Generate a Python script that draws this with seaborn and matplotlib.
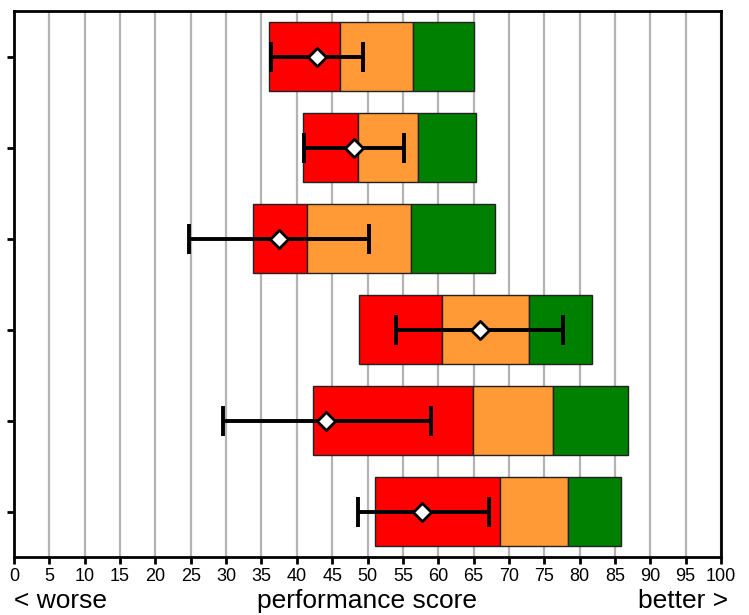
import numpy as np
import matplotlib
matplotlib.use("Agg")
import matplotlib.pyplot as plt
import seaborn as sns

# segment boundaries for each row (top to bottom)
red_start = [36.0, 40.9, 33.8, 48.8, 42.3, 51.1]
red_end = [46.1, 48.6, 41.4, 60.6, 64.9, 68.8]
orange_end = [56.5, 57.1, 56.1, 72.9, 76.2, 78.4]
green_end = [65.1, 65.3, 68.0, 81.8, 86.9, 85.8]

# mean score and its range
means = [42.8, 48.1, 37.5, 65.9, 44.2, 57.7]
err_low = [36.4, 41.0, 24.8, 54.1, 29.5, 48.7]
err_high = [49.3, 55.1, 50.2, 77.6, 59.0, 67.2]

x_ticks = list(range(0, 101, 5))


def main():
  sns.set_style("white")
  plt.rcParams['font.family'] = ['Liberation Sans Narrow', 'Liberation Sans', 'DejaVu Sans']
  plt.rcParams['text.color'] = 'black'
  plt.rcParams['xtick.color'] = 'black'
  plt.rcParams['ytick.color'] = 'black'

  fig = plt.figure(figsize=(7.49, 6.15), dpi=100)
  ax = fig.add_axes([14 / 749, 1 - 557 / 615, 707 / 749, 546 / 615])

  rows = np.arange(len(means))
  h = 0.76
  red_w = [e - s for s, e in zip(red_start, red_end)]
  orange_w = [e - s for s, e in zip(red_end, orange_end)]
  green_w = [e - s for s, e in zip(orange_end, green_end)]

  ax.barh(rows, red_w, left=red_start, height=h, color='#ff0000', edgecolor='#222222', linewidth=1, zorder=2)
  ax.barh(rows, orange_w, left=red_end, height=h, color='#ff9a36', edgecolor='#222222', linewidth=1, zorder=2)
  ax.barh(rows, green_w, left=orange_end, height=h, color='#008000', edgecolor='#222222', linewidth=1, zorder=2)

  # range of scores
  xerr = [np.array(means) - np.array(err_low), np.array(err_high) - np.array(means)]
  ax.errorbar(means, rows, xerr=xerr, fmt='none', ecolor='black', elinewidth=2.8,
              capsize=11, capthick=2.8, zorder=3)

  # mean markers
  sns.scatterplot(x=means, y=rows, marker='D', s=85, color='white', edgecolor='black',
                  linewidth=2, zorder=4, ax=ax, legend=False)

  ax.set_xlim(0, 100)
  ax.set_ylim(5.5, -0.5)
  ax.set_xticks(x_ticks)
  ax.set_xticklabels([str(t) for t in x_ticks], fontsize=13, color='black')
  ax.set_yticks(rows)
  ax.set_yticklabels([])
  ax.xaxis.grid(True, color='#b4b4b4', linewidth=1.6, zorder=0)
  ax.yaxis.grid(False)
  ax.set_axisbelow(True)
  ax.tick_params(axis='both', direction='out', length=5, width=2, color='black',
                 bottom=True, left=True, pad=3)
  for s in ax.spines.values():
    s.set_color('black')
    s.set_linewidth(2)

  fig.text(14 / 749, 1 - 601 / 615, '< worse', fontsize=19, ha='left', va='center', color='black')
  fig.text(367 / 749, 1 - 601 / 615, 'performance score', fontsize=19, ha='center', va='center', color='black')
  fig.text(728 / 749, 1 - 601 / 615, 'better >', fontsize=19, ha='right', va='center', color='black')

  fig.savefig('out.png', dpi=100)
  plt.close(fig)


if __name__ == "__main__":
  main()
